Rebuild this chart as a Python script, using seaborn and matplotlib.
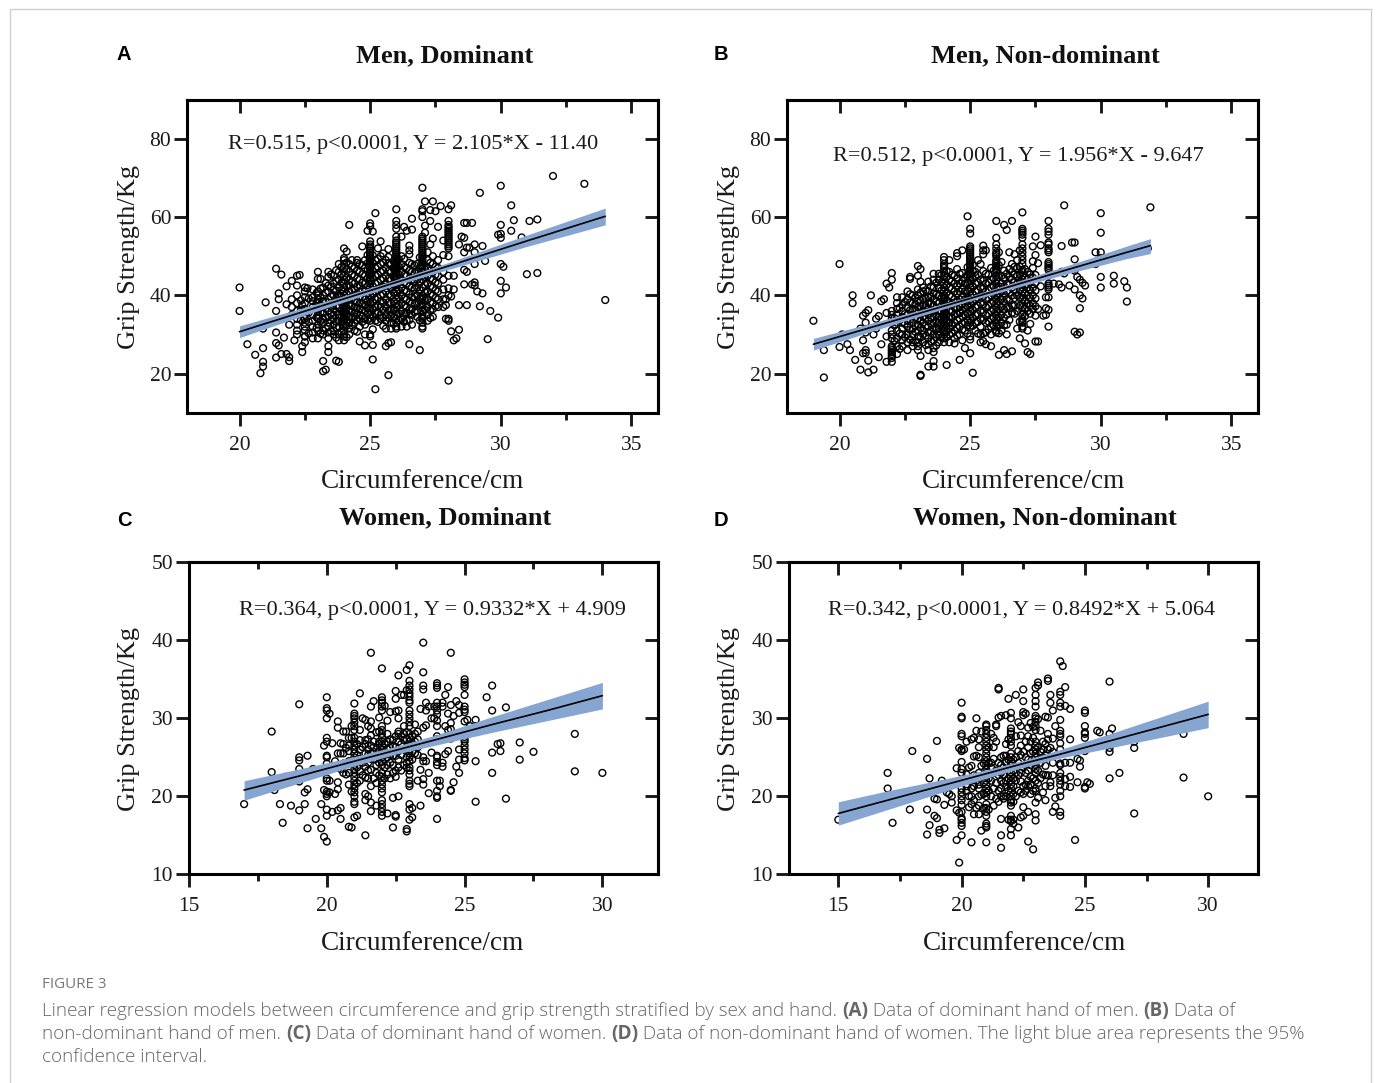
import matplotlib
matplotlib.use("Agg")
from matplotlib.lines import Line2D
import matplotlib.pyplot as plt
import seaborn as sns

W, H = 1376, 1083

# scattered points, (circumference, grip)
a_points = [(20,42),(20,36),(20.3,27.5),(20.6,24.8),(20.9,26.5),(20.8,20.1),(20.9,21.8),(20.9,23),(21,38.2),(20.9,31.5),
    (21.4,46.8),(21.6,45.3),(21.5,40.5),(21.5,39),(21.4,36),(21.4,30.5),(21.4,27.8),(21.5,27.2),(21.6,25),(21.4,24.1),
    (21.8,25),(21.9,24.2),(21.9,23.2),(21.7,29.2),(21.8,37.7),(21.8,42.3),(22,43.7),(22.2,45),(22.3,45.2),(22.2,42.5),
    (22.5,42),(22.6,41.8),(22.4,37.5),(22.5,28),(22.4,27),(22.4,25.5),(22.5,29.5),(22.1,28.5),(21.9,32.5),(22,37),(22,39),(22,35),
    (23,46),(23,44.2),(23.1,44.2),(23.4,46),(23.4,44.7),(23.2,23.2),(23.2,20.6),(23.3,21),(23.4,25.5),(23.4,27),(23.7,23.3),(23.8,23),
    (24,52),(24.1,51.2),(24.2,58),(24.3,49),(24.5,49),(24.7,52.5),(24.9,56.5),(25,58.4),(25,57.7),(25.1,56.3),(25,53.8),(25.2,61),
    (25.4,53.8),(25.3,52),(25.7,51.8),(25.1,27.3),(25.1,23.6),(24.8,27.2),(24.6,28.2),(25.6,27),(25.7,27.8),(25.8,28),(25.7,19.6),(25.2,16),
    (26,62),(26,59),(26,58),(26,57),(26.3,57.5),(26.4,56.5),(26.6,59.6),(26.6,56.8),(26.2,55),(26.5,52.7),(26.5,51.5),(26.5,50.5),(26.5,27.5),(26.9,26),
    (27,67.5),(27.1,64),(27.4,64),(27,62),(27,61.5),(27,60),(27.3,61.8),(27.5,61.5),(27.7,62.8),(28.1,63),(28,62),(27.3,59),(27.1,57.8),(27.1,56),
    (27.6,57.5),(27.4,54.5),(27.3,53),(28,59),(28,34),(28,33.5),(27.9,34),(28,18.2),(28.1,30.8),(28.2,28.5),(28.3,29),(28.4,31.2),(28,40),(28.1,39.7),
    (28,41.8),(28.2,41.5),(28,45),(28.2,45),(27.9,37.5),(27.9,39),(28.5,55),(28.6,54.7),(28.6,58.5),(28.7,58.5),(28.9,58.5),(28.4,53),(28.7,52.2),(28.8,52.2),
    (29,53),(28.6,51),(29,51),(28.6,46.5),(28.7,46),(28.6,42.8),(28.9,42.8),(29,42.5),(29,43.3),(29.1,41),(29.3,40.5),(28.4,37.5),(28.7,37.5),
    (29.2,37.2),(29.6,36),(29.9,34.3),(29.5,28.8),(29.2,66.2),(30,68),(30,58),(29.9,55.5),(30,55.7),(30,54.7),(30.4,63),(30.5,59.2),(30.4,56.5),
    (30.8,54.8),(31.1,59),(31.4,59.4),(31,45.4),(31.4,45.7),(30,48),(30.1,47.3),(30,43.7),(30.2,42),(30,40.5),(29.4,48.8),(29,48),(29.3,52.6),
    (32,70.5),(33.2,68.5),(34,38.8)]
a_col_x = [22.2,22.5,22.8,23,23.2,23.4,23.6,23.8,24,24.2,24.4,24.6,24.8,25,25.2,25.4,25.6,25.8,26,26.2,26.4,26.6,26.8,27,27.2,27.4,27.6,27.8,28]
a_col_y = [[30,31,32.5,34,36,38,40],
    [29.5,31,32,33,34,35,36.5,38,39.5,41],
    [29,30.5,32,33.5,35,37,38.5,39.5,41.5],
    [29,31,32.5,34,35,36,37,38,39,40,41],
    [30,31,33,34,35.5,37,38.5,40,42],
    [29,30.5,32,33,34.5,36,37.5,39,41,42.5],
    [30,31,32.5,34,35,36.5,38,40,41.5,43,45],
    [28.5,30,32,33.5,35,37,38.5,40,42,44,46,48],
    [28.5,29.5,30,31,32,33,33.5,34,34.5,35,35.5,36,36.5,37,37.5,38,38.5,39,40,41,42,43,44,45,46,47,48,49,49.5],
    [30,31.5,33,34.5,36,37.5,39,41,42.5,44,46,48],
    [31,33,34.5,35.5,37,38.5,40,41.5,43,45,47],
    [32,34,35,36.5,38,39.5,41,42.5,44,46,48],
    [30,32.5,34,36,37.5,39,41,43,45,47,49],
    [29.5,30,33.5,34.2,35,36,37,38,39,40,41,42,43,44,44.5,45,45.5,46,46.5,47,47.5,48,48.5,49,49.5,50,50.5,51,51.5,52,52.5,53],
    [33.5,35.5,37,39,41,43,45,47,49],
    [34,35,37,38.5,40,42,44,46,48,50],
    [31.5,33.5,35,37,39,41,43,45,47,49],
    [31.5,33,35,36.5,38,40,42,44,46,48],
    [31.5,32,33,34,35,36,37,38,39,40,41,42,43,44,44.5,45,45.5,46,46.5,47,47.5,48,48.5,49,49.5,50,50.5,51,51.5,52,52.5,53,53.5,54,55],
    [32,34,36,38,40,42,44,46,48,50],
    [32,33.5,35.5,37,39,41,43,45,47],
    [32.5,35,36.5,38,39.5,42,44,46,48],
    [34.5,36,38,40,42,44,46,48],
    [31.5,32,33,34,34.5,35,36,37,37.5,38,39,39.5,40,42,44,45,46,47,47.5,48,48.5,49,49.5,50,50.5,51,51.5,52,52.5,53,53.5,54,54.5,55],
    [33.5,35,37,39,41,43,45,47,49,51],
    [34.5,36.5,38,40,42,44,46,48,50],
    [37,39,41,43,45,47,49],
    [37,39,41.5,44,46,50.3,54],
    [50,52,52.5,53,53.5,54,54.5,55,55.5,56,56.5,57,57.5,58]]
# second pass over the dark middle of the cloud
a_core_x = [22.35,22.65,22.95,23.1,23.3,23.5,23.7,23.9,24.1,24.3,24.5,24.7,24.9,25.1,25.3,25.5,25.7,25.9,26.1,26.3,26.5,26.7,26.9,27.1,27.3,27.5]
a_core_y = [[33.7,36.2,38.7],
    [30.3,33.2,35.6,39.2],
    [31.7,34.4,36.3,38.2,40.6],
    [30.2,33.4,35.7,37.6,39.4,41.7],
    [31.6,34.2,36.7,38.3,40.7,43.1],
    [30.8,33.6,35.2,37.3,39.7,42.2,45.3],
    [29.2,31.8,33.3,35.8,37.2,39.3,41.2,43.7,46.4],
    [30.7,33.1,34.3,36.2,38.2,39.7,41.3,43.2,45.3,47.2],
    [29.3,32.2,33.7,35.3,36.8,38.7,40.4,42.3,44.6,46.7,48.4],
    [32.3,34.2,35.8,37.3,39.2,41.3,43.3,45.2,47.4],
    [30.7,33.7,35.3,36.8,38.2,40.3,42.2,44.3,46.2,48.3],
    [33.2,34.7,36.3,37.8,39.6,41.4,43.2,45.4,47.7],
    [33.7,35.2,36.7,38.3,40.4,42.3,44.2,46.3,48.2,50.3],
    [31.3,34.7,36.4,38.2,40.2,42.3,44.4,46.2,48.2,50.2],
    [33.2,35.7,37.4,39.3,41.3,43.3,45.2,47.3,49.3],
    [32.2,34.3,36.2,38.2,40.3,42.2,44.3,46.3,48.3,50.7],
    [34.2,36.2,38.2,40.2,42.4,44.2,46.2,48.2,49.8],
    [32.7,34.3,36.1,38.4,40.7,42.8,44.7,46.8,48.7],
    [33.6,35.4,37.4,39.3,41.3,43.3,45.3,47.3,49.2],
    [33.2,35.3,37.3,39.2,41.2,43.2,45.2,47.2,49.3],
    [33.7,35.2,36.4,38.3,40.2,42.3,44.3,46.3,48.3],
    [35.7,37.7,39.7,41.7,43.7,45.7,47.7],
    [33.6,37.2,39.2,41.3,43.3,45.2,47.2,49.7],
    [36.3,38.7,40.7,42.7,44.7,46.7],
    [34.2,36.2,38.2,40.3,42.3,44.3,46.3,48.3],
    [37.2,39.3,41.3,43.3,45.3,47.3]]

b_points = [(19,33.5),(19.4,26),(19.4,19),(20,48),(20.1,30),(20,26.8),(20.3,27.5),(20.4,26),(20.5,40),(20.5,38),(20.6,23.5),(20.8,21),(20.8,31.5),
    (20.9,34.8),(20.9,28.5),(21,35.5),(21,33),(21,30.5),(21,26),(20.9,25.2),(21,25.3),(21.1,36.2),(21.1,23.3),(21.1,20.3),(21.2,40),(21.3,21),(21.3,30),
    (21.4,31.5),(21.4,34),(21.5,34.7),(21.5,24.2),(21.6,38.5),(21.7,39),(21.6,27.5),(21.8,43),(21.9,42),(21.8,23),(21.8,29.5),(21.8,35.5),(22,45.7),(22,44),
    (22.7,44.7),(22.7,44.2),(23,47.5),(23.1,46.7),(23,45),(23.1,43.5),(23,26),(23.1,24.5),(23.1,19.7),(23.1,19.4),(23.4,21.8),(23.6,21.8),(23.6,23.2),
    (24.1,22.2),(24.6,23.5),(25.1,20.2),(25,25.2),(24.8,26.5),(24.7,28.5),(24.4,27.7),(24.2,49),(24.5,50.8),(24.7,51.5),(24.5,50),(24.9,60.2),
    (26.3,58),(26.4,56.7),(26.6,59),(25.5,52.7),(25.5,51.5),(25.3,49),(25.5,50.5),(25.6,51.5),(25.4,48),(26.1,24.8),(26.3,26),(26.4,25),(26.6,25.7),
    (26.9,29),(27.1,27.7),(27.2,31),(27.2,25.5),(27.3,25),(27.5,28.2),(27.6,28.2),(27.5,55),(27.7,52.8),(27.6,48.2),(27.4,52.5),(27.5,50.3),(27.4,48.7),
    (28.6,63),(28.5,52.6),(28.9,53.5),(29,53.5),(29,49.2),(29,46.8),(29,46.3),(29,41.5),(28.8,42.5),(28.5,42),(28.4,42.8),(28.2,43),(28.5,46),(28.6,45.6),
    (29.1,44.7),(29.2,44),(29.3,43.2),(29.4,42.5),(29.2,40),(29.3,39.2),(29.2,36.7),(29,30.7),(29.1,30),(29.2,30.5),(29.8,48),(29.8,51),(30,51),(30,49.5),
    (30,61),(30,56),(30,44.7),(30,42),(30.5,45),(30.5,43),(30.9,43.6),(31,42),(31,38.4),(31.8,52),(31.9,62.5),(26.1,51),(26.5,51),(26.7,50.5),(26.9,51.5),
    (27.9,35),(27.9,39.5),(27.6,36.5),(27.9,36.7),(27.7,42.3),(27.5,34.8),(27.8,34.8)]
b_col_x = [22,22.2,22.4,22.6,22.8,23,23.2,23.4,23.6,23.8,24,24.2,24.4,24.6,24.8,25,25.2,25.4,25.6,25.8,26,26.2,26.4,26.6,26.8,27,27.2,27.4,28]
b_col_y = [[23,24,24.5,25,25.5,26,26.5,27,29,30,31,33,34,35,36],
    [25,27,29,31,33,35,36.5,38,39.5],
    [27,28.5,30,31.5,33,34.5,36,37.5,39.5],
    [26,28,30,32,33.5,35,37,39,41],
    [27,28,30,31.5,33,35,36.5,38,40],
    [27,28,29.5,31,32.5,34,35.5,37,38.5,40,41.5],
    [28,30,31,33,34.5,36,37.5,39,41,42],
    [26,27.5,29,30.5,32,33.5,35,36.5,38,39.5,41,43.5],
    [25.5,26.5,28.5,30,31.5,33,34.5,36,37.5,39,40.5,42,44,45.5],
    [28,30,31.5,33,34.5,36,38,40,42,44,45.5],
    [28,29,30,31,31.5,32,32.5,33,33.5,34,34.5,35,35.5,36,36.5,37,37.5,38,38.5,39,39.5,40,41,42,43,44,45,46,47,47.5,48,49,49.8],
    [28,30,31.5,33,34.5,36,38,40,42,44,46],
    [29,31,33,35,37,39,41,43,45],
    [30,32,34,35.5,37,39,41,43,45.5],
    [31,33,35,37,39,41,43,44.5],
    [28.7,29.5,32,33,34,35,36,37,38,39,40,41,42,43,44,44.5,45,45.5,46,46.5,47,47.5,48,48.5,49,49.5,50,50.5,51,51.5,52,52.5,55.8,57],
    [31,33,35,37,39,41,43,45,46],
    [28,30,32,34,36,38,40,42,44],
    [27.5,30.5,33,35,37,39,41,43,45.5],
    [27,30,32,34,36,38,40,42,44,47],
    [30.5,31,32,33,34,35,36,37,38,39,40,41,42,43,44,45,46,46.5,47,47.5,48,48.5,49,50,50.5,51,52,53,54.7,59],
    [31,33,35,37,39,41,43,45,48.5],
    [30,32.5,35,37,39,41,43,45.5],
    [35.5,37.5,40,42,44,46,48],
    [31.5,36,40,43,45,47,49],
    [31.5,32,33,33.5,34,35,36,37,38,39,40,41,42,43,44,45,46,46.5,48,49,50,51,52,53,54.7,55.5,56,56.5,57,61.2],
    [36,38,40,42,44,46],
    [36.5,38,40,42,44.5,47],
    [32,36.3,39.5,41.5,42,42.5,43,45,46.5,47,47.5,48,48.5,51,51.5,52,53,53.5,55.5,56.3,57,59]]
b_core_x = [22.1,22.3,22.5,22.7,22.9,23.1,23.3,23.5,23.7,23.9,24.1,24.3,24.5,24.7,24.9,25.1,25.3,25.5,25.7,25.9,26.1,26.3,26.5,26.7,26.9,27.1,27.3,27.5]
b_core_y = [[28.3,32.3,34.2],
    [26.3,30.2,33.7,36.8],
    [29.3,32.7,35.2,38.3],
    [28.7,31.2,33.8,36.2,38.2,40.3],
    [28.3,30.7,32.2,34.3,36.3,37.7,39.4],
    [29.2,31.7,33.7,35.2,37.2,38.7,40.7],
    [27.3,29.7,32.2,34.2,35.7,37.3,39.2,41.3],
    [28.2,30.7,32.7,34.3,36.3,37.8,39.7,42.3],
    [27.2,29.3,31.2,33.2,34.8,36.7,38.3,40.2,43.2],
    [29.2,31.2,32.8,34.2,35.7,37.2,39.3,41.2,43.3,45.2],
    [29.3,30.7,32.2,33.7,35.2,36.8,38.7,40.7,42.7,44.7,46.2],
    [30.3,32.3,34.3,35.8,37.7,39.7,41.7,43.7,45.2],
    [29.7,31.7,33.7,35.2,36.7,38.3,40.3,42.3,44.3,46.7],
    [31.2,32.8,34.7,36.2,37.7,39.7,41.7,43.7,45.7],
    [30.2,32.3,33.7,35.3,37.2,39.2,41.2,43.2,45.2,47.2],
    [32.2,34.2,36.2,38.2,40.2,42.2,44.2,46.2,47.7],
    [30.2,33.2,35.2,37.3,39.3,41.3,43.3,45.3],
    [28.3,30.3,33.7,35.7,37.7,39.7,41.7,43.7,46.2],
    [31.3,33.3,35.3,37.3,39.3,41.3,43.3,45.3],
    [32.3,34.3,36.3,38.3,40.3,42.3,44.3,46.3],
    [30.3,32.3,34.3,36.3,38.3,40.3,42.3,44.7,47.7],
    [32.3,34.3,36.3,38.3,40.3,42.3,44.3,46.3],
    [33.7,36.7,38.7,40.7,42.7,44.7,46.7],
    [35.3,37.3,39.3,41.3,43.3,45.3,47.3],
    [33.3,37.3,39.3,41.3,43.3,45.3,47.3],
    [34.7,36.7,38.7,40.7,42.7,44.7,46.7],
    [32.7,35.3,37.3,39.3,41.3,43.3,45.3],
    [37.2,39.2,41.2,43.2,45.2]]

c_points = [(17,19),(18,28.3),(18,23.1),(18,21.9),(18.1,20.8),(18.3,19),(18.4,16.6),(18.5,22.5),(18.7,18.8),(19,31.8),(19,25),(19,24.6),(19,23.5),(19,22.2),
    (19,21.9),(19,18.2),(19.2,20.5),(19.2,19),(19.3,25.2),(19.3,20.9),(19.3,15.9),(19.4,22.8),(19.5,23.5),(19.6,17.1),(19.8,23.2),(19.8,19),(19.8,15.9),
    (19.9,26.5),(19.9,20.8),(19.9,14.8),(20.1,30.6),(20.1,22),(20.1,20.5),(20.2,26.8),(20.2,18),(20.3,20.3),(20.4,29.6),(20.4,28.8),(20.4,25.5),(20.3,24.5),
    (20.4,21.8),(20.4,20.9),(20.4,18.2),(20.5,26.8),(20.5,25.5),(20.5,23.5),(20.5,18.5),(20.5,17.1),(20.6,28.3),(20.6,25.5),(20.6,23),(20.7,28.3),(20.7,26.2),
    (20.7,22.8),(20.8,27.5),(20.8,24.3),(20.8,16.1),(20.9,29),(20.9,27.5),(20.9,20.6),(20.9,16),(21,31.9),(21,17.3),(21.1,17.5),(21.2,33.2),(21.2,28.5),
    (21.3,30),(21.4,29.8),(21.4,27.2),(21.4,25.5),(21.4,23.8),(21.4,22.4),(21.4,20.3),(21.4,19.5),(21.4,15),(21.5,29),(21.5,26),(21.5,22.3),(21.5,20),
    (21.6,38.4),(21.6,31.5),(21.6,29.6),(21.6,28.7),(21.6,25.5),(21.6,21.3),(21.6,19.2),(21.6,18.1),(21.7,32.2),(21.7,27),(21.7,24.7),(21.8,21.7),(21.8,18.8),
    (21.9,30.1),(21.9,27),(21.9,25),(22.1,31.6),(22.2,29.7),(22.3,30.8),(22.5,33.5),(22.5,32.5),(22.5,30.9),(22.6,35.5),(22.6,31),(22.6,30),(22.6,28),(22.4,26.5),
    (22.2,27),(22.2,22.8),(22.2,17.8),(22.4,19.8),(22.4,16),(22.6,20),(22.5,17.6),(22.5,17.4),(22.5,22.5),(22.6,23.7),(22.6,24.7),(22.7,33),(22.8,33),(22.8,28),
    (22.8,29),(22.9,36.2),(22.9,33.6),(22.9,25),(22.9,15.5),(22.9,15.8),(23.1,17.3),(23.1,18.5),(23.4,18.8),(23.3,22),(23.4,23.4),(23.4,31.2),(23.5,39.7),
    (23.5,35.9),(23.5,34.2),(23.5,33.7),(23.5,28.8),(23.5,25),(23.5,24.5),(23.5,22.2),(23.5,21.5),(23.6,32),(23.6,31),(23.6,29.1),(23.6,24.5),(23.7,23),
    (23.7,20.4),(23.7,31.5),(23.8,30),(23.8,25.6),(23.9,30),(23.9,31.5),(24.1,22),(24.1,21.3),(24.2,32),(24.2,31.5),(24.2,24.3),(24.2,23.8),(24.3,33),
    (24.3,25.4),(24.3,29),(24.4,34),(24.4,30.6),(24.4,28.5),(24.4,25.8),(24.5,38.4),(24.5,31.7),(24.5,29.4),(24.5,28.6),(24.5,27.4),(24.5,20.8),(24.5,20.7),
    (24.6,30.3),(24.6,21.8),(24.7,32.2),(24.7,23.8),(24.8,31.7),(24.8,30.7),(24.8,26),(24.8,24.7),(24.8,23),(25.1,29.8),(25.1,28.2),(25.2,29),(25.4,29.8),
    (25.4,29),(25.4,24.5),(25.4,19.3),(25.5,28.5),(25.8,32.7),(25.8,29),(26,34.2),(26,31),(26,25.6),(26,23),(26.2,26.7),(26.3,26.8),(26.3,25.8),(26.5,31.4),
    (26.5,19.7),(27,29.7),(27,26.9),(27,24.7),(27.5,25.7),(29,28),(29,23.2),(30,23)]
c_col_x = [20,20.8,21,21.2,21.4,21.6,21.8,22,22.2,22.4,22.6,22.8,23,23.2,24,25]
c_col_y = [[14.2,17.5,18.3,20,20.3,20.6,22,22.3,24.2,25,25.2,27,27.5,30,31,31.3,32.7],
    [21.5,23,24.5,25.8,26.5],
    [19,19.3,20,20.5,21,21.5,22,22.5,23,23.5,24,24.5,25,25.5,26,26.5,27,27.5,28.5,29,29.5,30,30.3,30.6],
    [22,23.2,24.8,26,27.2],
    [24.8,26.7],
    [23.4,24.8,26.5,27.8],
    [23,24,26,28.2],
    [17.5,18,18.5,19,19.5,20.5,21,21.5,22,22.5,23,24,24.5,25,25.5,26,26.5,27,27.5,28,28.5,29,31,31.5,32,32.3,32.7,36.4],
    [24,25,26,28],
    [23,24,25.2,27.2],
    [25.8,27,28.3],
    [24,26,27.2],
    [17,18.3,19,21.3,21.6,22,22.8,23.3,23.7,24.5,25,25.5,26,26.5,27,27.5,28,29,29.5,30,30.5,31,32,32.3,32.8,33.2,33.7,34.2,34.8,36.8],
    [25.5,27,28,29.2],
    [17.1,19.8,20,20.7,22,24,24.4,25,25.2,27.3,27.7,29,29.7,30.5,31,31.5,32,33.9,34.2,34.5],
    [24.6,24.9,25.5,26,26.5,27,27.3,27.6,29.6,30.8,31.1,31.5,33,34,34.3,34.6,35]]
c_core_x = [20.6,21.1,21.3,21.5,21.7,21.9,22.1,22.3,22.5,22.7,22.9,23.1,23.3]
c_core_y = [[24.2,26.7],
    [21.7,23.7,25.3,26.7],
    [22.7,24.3,26.3],
    [23.3,24.3,25.3,27.3],
    [22.3,25.7,26.3],
    [22.7,24.3,25.7,26.7,28.3],
    [22.3,23.7,25.3,26.7],
    [22.3,24.3,25.3,26.2,27.3],
    [23.3,25.2,26.3,27.7],
    [23.3,25.3,26.7,27.7],
    [23.7,24.3,26.3,27.3,28.2],
    [24.7,25.7,26.7,27.7],
    [25.3,26.3,27.3,28.3]]

d_points = [(15,17),(17,23),(17,21),(17.2,16.6),(17.9,18.3),(18,25.8),(18.6,24.8),(18.6,18.3),(18.6,15.1),(18.7,22.3),(18.7,16.3),(18.9,17.5),(19,17.2),(19,27.1),
    (18.9,19.7),(19,19.6),(19.1,15.7),(19.1,15.3),(19.2,22),(19.2,21.5),(19.3,15.9),(19.3,18.9),(19.4,20.5),(19.5,20.3),(19.6,20),(19.6,19.2),(19.8,23.6),
    (19.8,18.2),(19.8,14.4),(19.9,26.2),(19.9,17.9),(19.9,11.5),(20.1,26),(20.2,27),(20.2,22.8),(20.3,23.7),(20.3,20),(20.3,18.6),(20.4,27.3),(20.4,23.9),
    (20.4,14.1),(20.5,27.5),(20.5,25.1),(20.5,19.5),(20.5,17.7),(20.6,30),(20.6,28.4),(20.6,25.2),(20.6,22),(20.6,18.5),(20.7,27.3),(20.7,26.3),(20.7,21),
    (20.7,17.7),(20.8,28.3),(20.8,23.9),(20.8,20.2),(20.8,15.6),(20.9,24.2),(20.9,18.5),(21.2,28),(21.2,22),(21.2,20),(21.3,26.3),(21.3,24.8),(21.4,27),
    (21.4,29.2),(21.4,29),(21.5,30.1),(21.5,33.9),(21.5,33.7),(21.6,17.1),(21.6,15),(21.6,13.4),(21.6,30.3),(21.6,24),(21.7,25.2),(21.7,20),(21.7,19.7),
    (21.8,30.4),(21.8,26.7),(21.8,25.2),(21.9,32.5),(21.9,27.3),(21.9,17),(22.1,17),(22.1,16.5),(22.2,33),(22.2,27.7),(22.3,29.5),(22.3,25.8),(22.3,16),
    (22.4,29),(22.4,27.8),(22.4,21.9),(22.4,17.3),(22.5,33.7),(22.5,32.2),(22.5,30.8),(22.5,30.4),(22.5,18.6),(22.5,17.5),(22.6,30.6),(22.6,25),(22.6,23),
    (22.7,28.8),(22.7,27.7),(22.7,22),(22.7,14.2),(22.7,18),(22.8,29.4),(22.8,27),(22.8,20.3),(22.9,28.9),(22.9,27.5),(22.9,13.2),(23.1,34.2),(23.1,34.6),
    (23.1,29.9),(23.1,19.8),(23.2,28.4),(23.3,27),(23.4,30.2),(23.4,19.5),(23.4,22.7),(23.4,23.9),(23.5,35.1),(23.5,34.8),(23.5,30.1),(23.5,28),(23.5,27.3),
    (23.5,26),(23.5,22.7),(23.6,33),(23.6,32),(23.6,26.2),(23.6,21.8),(23.6,21.3),(23.7,31),(23.7,27.4),(23.7,18),(23.8,29),(23.8,18.7),(23.8,19.8),
    (24.1,36.7),(24.2,34),(24.2,31.6),(24.2,24.3),(24.2,22.2),(24.2,21.3),(24.4,31.2),(24.4,27.3),(24.4,24.3),(24.4,22.5),(24.4,21.2),(24.6,14.4),(24.7,24.8),
    (24.7,21.8),(24.8,24.6),(24.8,23.8),(25.1,21.8),(25.2,21.6),(25.5,28.4),(25.6,28.2),(26,34.7),(26,28),(26,26.2),(26,25.7),(26,22.3),(26.1,28.7),(26.4,23),
    (27,27),(27,26.2),(27,17.8),(29,28),(29,22.4),(30,20)]
d_col_x = [20,20.4,20.7,21,21.3,21.6,21.8,22,22.2,22.4,22.6,22.8,23,23.3,24,25]
d_col_y = [[15,16.2,16.6,17,17.2,18,18.9,19.5,20,20.5,21,22,23,23.5,24.4,25.8,26,27.7,28,30,30.2,32],
    [19,20,21,22],
    [18.8,20,21.5,23,25],
    [14.1,16,16.2,16.5,17.5,18,18.5,19,20,20.5,21,21.5,22,22.5,23,23.5,24,24.5,25,25.5,26,26.5,27,27.5,28,28.5,29,29.2],
    [18.8,21,23,27.5],
    [20,21,22,23,25],
    [20,21.2,22,23.5,24.3],
    [15,15.8,16.8,17,17.5,18.8,19.2,19.5,20,20.5,21,21.5,22,22.5,23,24,24.5,25,25.5,26.5,27,27.5,28,28.3,28.7,30,30.7],
    [20,22,23,25],
    [20.5,23,25.3,26.5],
    [20.7,21.5,24,27],
    [21.5,22.5,24,25.5],
    [16.9,17.7,19.2,20.7,21,22,23,23.5,24,24.5,25,25.5,26,26.5,27,28.5,29,29.5,30,30.3,31.5,32.2,33,33.9],
    [20.5,22.8,25,26],
    [17.5,18,20,20.7,21.5,22,22.5,23,24,24.2,26,26.8,27.7,28,28.4,29.8,31.5,32,33,33.4,37.3],
    [21,21.2,25.8,27.5,28,28.2,29,30.7,31]]
d_core_x = [20.2,20.5,20.9,21.1,21.2,21.4,21.5,21.7,21.9,22.1,22.3,22.5,22.7,22.9,23.1,23.2,23.4,23.7]
d_core_y = [[20.7,21.3],
    [21.3,22.7],
    [20.3,21.7,22.7],
    [18.3,20.7,22.3,24.3,26.3],
    [23.7,24.3],
    [19.7,21.7,23.3],
    [19.3,20.7,22.7,24.3],
    [21.7,22.7,23.7],
    [20.7,22.3,24.7],
    [19.3,20.3,21.3,22.3,23.3,24.7],
    [20.7,22.7,24.3],
    [20.3,21.3,23.7,25.7],
    [21.3,23.3,24.7,26.3],
    [20.7,22.3,24.3,25.7],
    [21.7,23.3,24.7,26.3],
    [22.3,24.3,25.7],
    [21.3,25.3,26.7],
    [22.7,24.3,25.7]]

# fitted line and 95% band, read at a few positions
a_fit_x = [20,22,24,25.7,28,31,34]
a_fit_y = [30.7,34.9,39.1,42.7,47.5,53.9,60.2]
a_ci_lo = [29.2,33.8,38.3,42.0,46.6,52.5,58.0]
a_ci_hi = [32.2,36.0,39.9,43.4,48.4,55.4,62.3]
b_fit_x = [19,21,23,25,27,29,31,31.9]
b_fit_y = [27.5,31.4,35.3,39.2,43.2,47.1,51.0,52.7]
b_ci_lo = [26.0,30.3,34.5,38.6,42.4,46.0,49.4,50.7]
b_ci_hi = [29.0,32.5,36.1,39.8,44.0,48.2,52.6,54.5]
c_fit_x = [17,19,21,22.5,24,26,28,30]
c_fit_y = [20.8,22.6,24.5,25.9,27.3,29.2,31.0,32.9]
c_ci_lo = [19.5,21.7,23.9,25.4,26.6,28.2,29.7,31.2]
c_ci_hi = [22.0,23.5,25.1,26.4,27.9,30.2,32.4,34.6]
d_fit_x = [15,17,19,21,22.5,24,26,28,30]
d_fit_y = [17.8,19.5,21.2,22.9,24.2,25.4,27.1,28.8,30.5]
d_ci_lo = [16.3,18.3,20.3,22.3,23.7,24.9,26.2,27.5,28.8]
d_ci_hi = [19.3,20.7,22.0,23.4,24.6,26.0,28.0,30.1,32.2]

titles = ["Men, Dominant", "Men, Non-dominant", "Women, Dominant", "Women, Non-dominant"]
equations = ["R=0.515, p<0.0001, Y = 2.105*X - 11.40", "R=0.512, p<0.0001, Y = 1.956*X - 9.647",
             "R=0.364, p<0.0001, Y = 0.9332*X + 4.909", "R=0.342, p<0.0001, Y = 0.8492*X + 5.064"]
top_xticks = [20, 25, 30, 35]
top_xminor = [22.5, 27.5, 32.5]
top_yticks = [20, 40, 60, 80]
low_xticks = [15, 20, 25, 30]
low_xminor = [17.5, 22.5, 27.5]
low_yticks = [10, 20, 30, 40, 50]

BAND = "#86A5D1"
INK = "#1a1a1a"
SERIF = "Liberation Serif"

sns.set_style("ticks")
plt.rcParams["font.family"] = SERIF


def pos(px, py):
    return px / W, 1 - py / H


def collect(points, col_x, col_y):
    xs = [p[0] for p in points]
    ys = [p[1] for p in points]
    for x, col in zip(col_x, col_y):
        xs += [x] * len(col)
        ys += col
    return xs, ys


def draw_panel(fig, box, points, col_x, col_y, fit, xlim, ylim, xticks, xminor, yticks):
    left, top, right, bottom = box
    ax = fig.add_axes([left / W, 1 - bottom / H, (right - left) / W, (bottom - top) / H])
    xs, ys = collect(points, col_x, col_y)
    sns.scatterplot(x=xs, y=ys, ax=ax, s=24, facecolor="none", edgecolor="black", linewidth=1.0, zorder=2)
    fx, fy, lo, hi = fit
    ax.fill_between(fx, lo, hi, color=BAND, linewidth=0, zorder=3)
    sns.lineplot(x=fx, y=fy, ax=ax, color="black", linewidth=1.2, zorder=4)
    ax.set_xlim(*xlim)
    ax.set_ylim(*ylim)
    ax.set_xticks(xticks)
    ax.set_xticks(xminor, minor=True)
    ax.set_yticks(yticks)
    ax.tick_params(which="major", length=9.5, width=2.1, labelsize=15.5, colors=INK)
    ax.tick_params(axis="x", which="major", pad=7)
    ax.tick_params(axis="y", which="major", pad=2)
    ax.tick_params(which="minor", length=5, width=2.1, color=INK)
    # top and right ticks point inward, so they need their own axes
    sec_x = ax.secondary_xaxis("top")
    sec_x.set_xticks(xticks)
    sec_x.set_xticks(xminor, minor=True)
    sec_x.tick_params(which="major", direction="in", length=9.5, width=2.1, labeltop=False, color=INK)
    sec_x.tick_params(which="minor", direction="in", length=5, width=2.1, color=INK)
    sec_y = ax.secondary_yaxis("right")
    sec_y.set_yticks(yticks)
    sec_y.tick_params(direction="in", length=9.5, width=2.1, labelright=False, color=INK)
    for a in (ax, sec_x, sec_y):
        for sp in a.spines.values():
            sp.set_linewidth(2.2)
            sp.set_color("black")
    return ax


def caption_line(fig, runs, x, y, size=13.6):
    # runs are laid out one after the other because the bold bits use another weight
    rend = fig.canvas.get_renderer()
    for txt, bold in runs:
        fig.text(*pos(x, y), txt, family="Open Sans", fontsize=size, color="#666666",
                 fontweight="bold" if bold else "light", va="center", ha="left")
        adv = fig.text(0, 0, txt.replace(" ", "\u00a0"), family="Open Sans", fontsize=size,
                       fontweight="bold" if bold else "light", alpha=0)
        x += adv.get_window_extent(rend).width
        adv.remove()


def main():
    fig = plt.figure(figsize=(W / 100, H / 100), dpi=100)

    draw_panel(fig, (187.3, 99.7, 657.5, 412.7), a_points, a_col_x + a_core_x, a_col_y + a_core_y,
               (a_fit_x, a_fit_y, a_ci_lo, a_ci_hi), (18, 36), (10, 90), top_xticks, top_xminor, top_yticks)
    draw_panel(fig, (787.3, 99.7, 1257.5, 412.7), b_points, b_col_x + b_core_x, b_col_y + b_core_y,
               (b_fit_x, b_fit_y, b_ci_lo, b_ci_hi), (18, 36), (10, 90), top_xticks, top_xminor, top_yticks)
    draw_panel(fig, (189, 562.3, 657.5, 874.3), c_points, c_col_x + c_core_x, c_col_y + c_core_y,
               (c_fit_x, c_fit_y, c_ci_lo, c_ci_hi), (15, 32), (10, 50), low_xticks, low_xminor, low_yticks)
    draw_panel(fig, (789, 562.3, 1257.5, 874.3), d_points, d_col_x + d_core_x, d_col_y + d_core_y,
               (d_fit_x, d_fit_y, d_ci_lo, d_ci_hi), (13, 32), (10, 50), low_xticks, low_xminor, low_yticks)

    title_xy = [(445, 56), (1045, 56), (445, 518), (1045, 518)]
    eq_xy = [(413, 144), (1018, 156), (432, 610), (1022, 611)]
    xlabel_xy = [(423, 482), (1023, 482), (423, 944), (1024, 944)]
    ylabel_xy = [(129, 257), (729, 257), (129, 719), (729, 719)]
    letter_xy = [(124, 55), (721, 55), (124, 520), (721, 520)]
    for i, letter in enumerate("ABCD"):
        fig.text(*pos(*title_xy[i]), titles[i], fontsize=19, fontweight="bold", color="#111111", ha="center", va="center")
        fig.text(*pos(*eq_xy[i]), equations[i], fontsize=16.1, color=INK, ha="center", va="center")
        fig.text(*pos(*xlabel_xy[i]), "Circumference/cm", fontsize=19.6, color=INK, ha="center", va="center")
        fig.text(*pos(*ylabel_xy[i]), "Grip Strength/Kg", fontsize=19, color=INK, ha="center", va="center", rotation=90)
        fig.text(*pos(*letter_xy[i]), letter, family="Liberation Sans", fontsize=14.5, fontweight="bold", color="black", ha="center", va="center")

    fig.text(*pos(42, 984), "FIGURE 3", family="Open Sans", fontsize=10.9, color="#777777", va="center")
    caption_line(fig, [("Linear regression models between circumference and grip strength stratified by sex and hand. ", False),
                       ("(A)", True), (" Data of dominant hand of men. ", False), ("(B)", True), (" Data of", False)], 42, 1011)
    caption_line(fig, [("non-dominant hand of men. ", False), ("(C)", True), (" Data of dominant hand of women. ", False),
                       ("(D)", True), (" Data of non-dominant hand of women. The light blue area represents the 95%", False)], 42, 1034)
    caption_line(fig, [("confidence interval.", False)], 42, 1057)

    # page frame around the figure, open at the bottom
    frame = "#cfcfcf"
    x0, x1 = 9.7 / W, 1370.5 / W
    y0 = 1 - 8.7 / H
    fig.add_artist(Line2D([x0, x1], [y0, y0], color=frame, linewidth=1))
    fig.add_artist(Line2D([x0, x0], [0, y0], color=frame, linewidth=1))
    fig.add_artist(Line2D([x1, x1], [0, y0], color=frame, linewidth=1))

    fig.savefig("out.png", dpi=100)
    plt.close(fig)


if __name__ == "__main__":
    main()
